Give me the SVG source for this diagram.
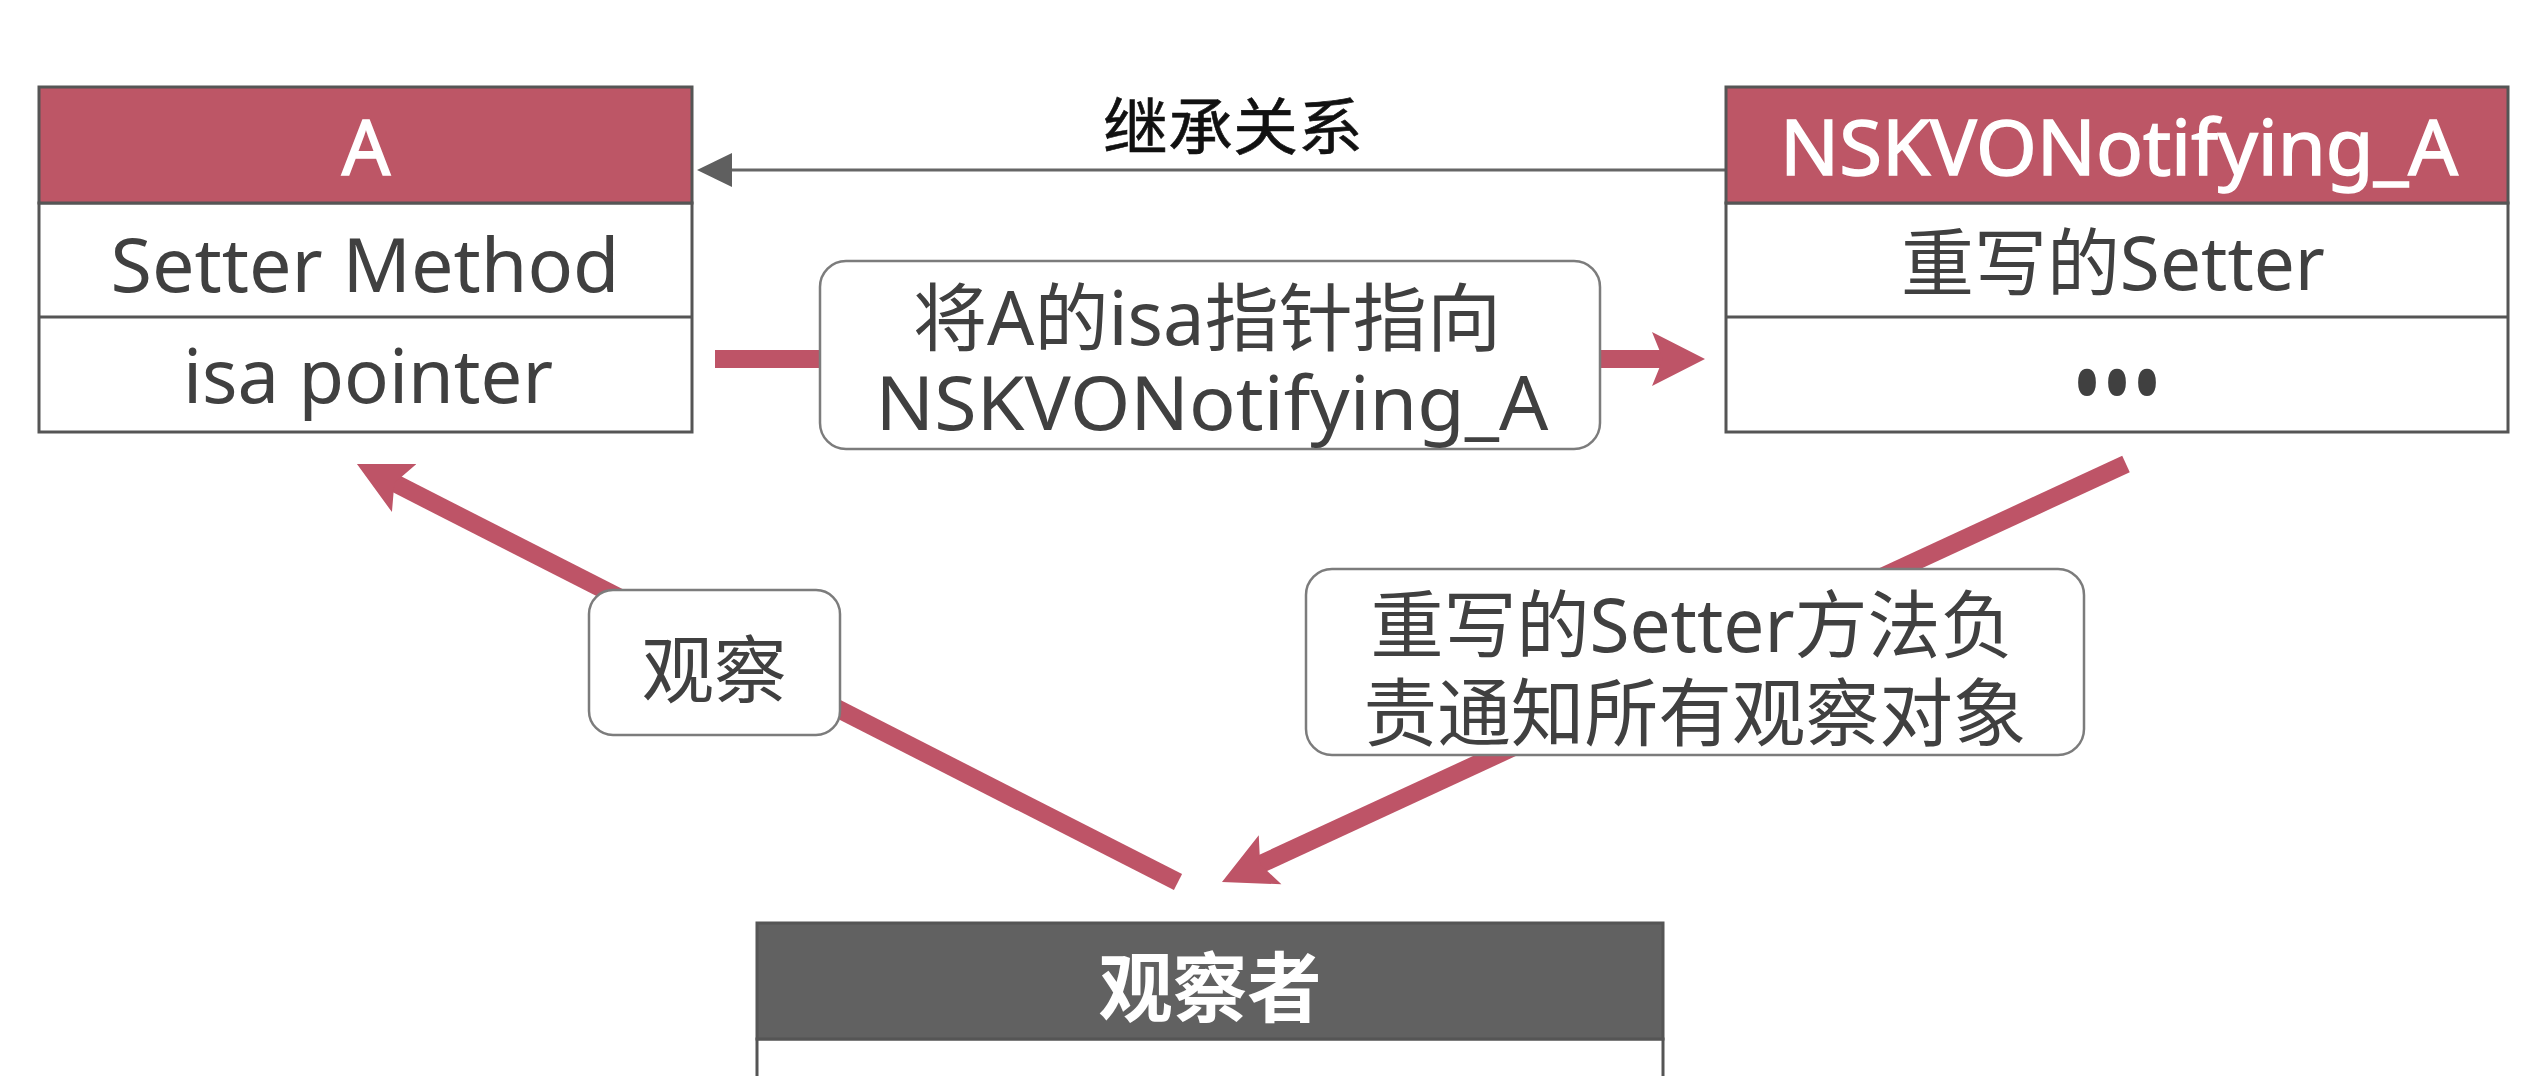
<svg xmlns="http://www.w3.org/2000/svg" width="2548" height="1076" viewBox="0 0 2548 1076">
<style>
text{font-family:"Noto Sans","Noto Sans CJK SC",sans-serif;text-anchor:middle}
.hdr{fill:#BD5666;stroke:#555;stroke-width:3}
.hdrg{fill:#616161;stroke:#555;stroke-width:3}
.row{fill:#fff;stroke:#555;stroke-width:3}
.ht{fill:#fff;font-size:76px;stroke:#fff;stroke-width:1.5}
.htb{fill:#fff;font-size:76px;font-weight:bold}
.bt{fill:#404040;font-size:74px}
.lbl{fill:#fff;stroke:#7c7c7c;stroke-width:2.5}
.lt{fill:#404040;font-size:74px}
.red{stroke:#BE5467;stroke-width:18;fill:none}
</style>
<defs>
<marker id="ah" markerUnits="userSpaceOnUse" viewBox="0 -30 60 60" markerWidth="60" markerHeight="60" refX="13" refY="0" orient="auto">
<path d="M0,-27 L53,0 L0,27 L11,0 Z" fill="#BE5467"/>
</marker>
<marker id="gh" markerUnits="userSpaceOnUse" viewBox="0 -20 40 40" markerWidth="40" markerHeight="40" refX="2" refY="0" orient="auto">
<path d="M0,-17 L35,0 L0,17 Z" fill="#5f5f5f"/>
</marker>
</defs>
<rect width="2548" height="1076" fill="#fff"/>

<g id="connectors">
<line x1="1726" y1="170" x2="730" y2="170" stroke="#666" stroke-width="3" marker-end="url(#gh)"/>
<text x="1233" y="150" style="font-size:62px;fill:#111;stroke:#111;stroke-width:0.6" textLength="260" lengthAdjust="spacingAndGlyphs">继承关系</text>

<line class="red" x1="715" y1="359" x2="1665" y2="359" marker-end="url(#ah)"/>
<line class="red" x1="1178" y1="882" x2="392.6" y2="482.1" marker-end="url(#ah)"/>
<line class="red" x1="2126" y1="464" x2="1258.3" y2="865.2" marker-end="url(#ah)"/>

<g id="label-isa">
<rect class="lbl" x="820" y="261" width="780" height="188" rx="26"/>
<text class="lt"><tspan x="1207" y="345" textLength="588" lengthAdjust="spacingAndGlyphs">将A的isa指针指向</tspan><tspan x="1212" y="430" textLength="673" lengthAdjust="spacingAndGlyphs">NSKVONotifying_A</tspan></text>
</g>
<g id="label-observe">
<rect class="lbl" x="589" y="590" width="251" height="145" rx="24"/>
<text class="lt" x="714" y="697" textLength="145" lengthAdjust="spacingAndGlyphs">观察</text>
</g>
<g id="label-notify">
<rect class="lbl" x="1306" y="569" width="778" height="186" rx="26"/>
<text class="lt"><tspan x="1692" y="652" textLength="643" lengthAdjust="spacingAndGlyphs">重写的Setter方法负</tspan><tspan x="1695" y="740" textLength="663" lengthAdjust="spacingAndGlyphs">责通知所有观察对象</tspan></text>
</g>
</g>

<g id="node-A">
<rect class="row" x="39" y="203" width="653" height="229"/>
<line x1="39" y1="317" x2="692" y2="317" stroke="#555" stroke-width="3"/>
<rect class="hdr" x="39" y="87" width="653" height="116"/>
<text class="ht" x="366" y="175">A</text>
<text class="bt" x="365" y="292" textLength="509" lengthAdjust="spacingAndGlyphs">Setter Method</text>
<text class="bt" x="368" y="403" textLength="370" lengthAdjust="spacingAndGlyphs">isa pointer</text>
</g>

<g id="node-B">
<rect class="row" x="1726" y="203" width="782" height="229"/>
<line x1="1726" y1="317" x2="2508" y2="317" stroke="#555" stroke-width="3"/>
<rect class="hdr" x="1726" y="87" width="782" height="116"/>
<text class="ht" x="2119" y="175" textLength="678" lengthAdjust="spacingAndGlyphs">NSKVONotifying_A</text>
<text class="bt" x="2113" y="290" textLength="424" lengthAdjust="spacingAndGlyphs">重写的Setter</text>
<text class="bt" x="2117" y="422" style="font-size:110px" textLength="90" lengthAdjust="spacingAndGlyphs">•••</text>
</g>

<g id="node-observer">
<rect class="row" x="757" y="1039" width="906" height="60"/>
<rect class="hdrg" x="757" y="923" width="906" height="116"/>
<text class="htb" x="1210" y="1016" textLength="223" lengthAdjust="spacingAndGlyphs">观察者</text>
</g>
</svg>
